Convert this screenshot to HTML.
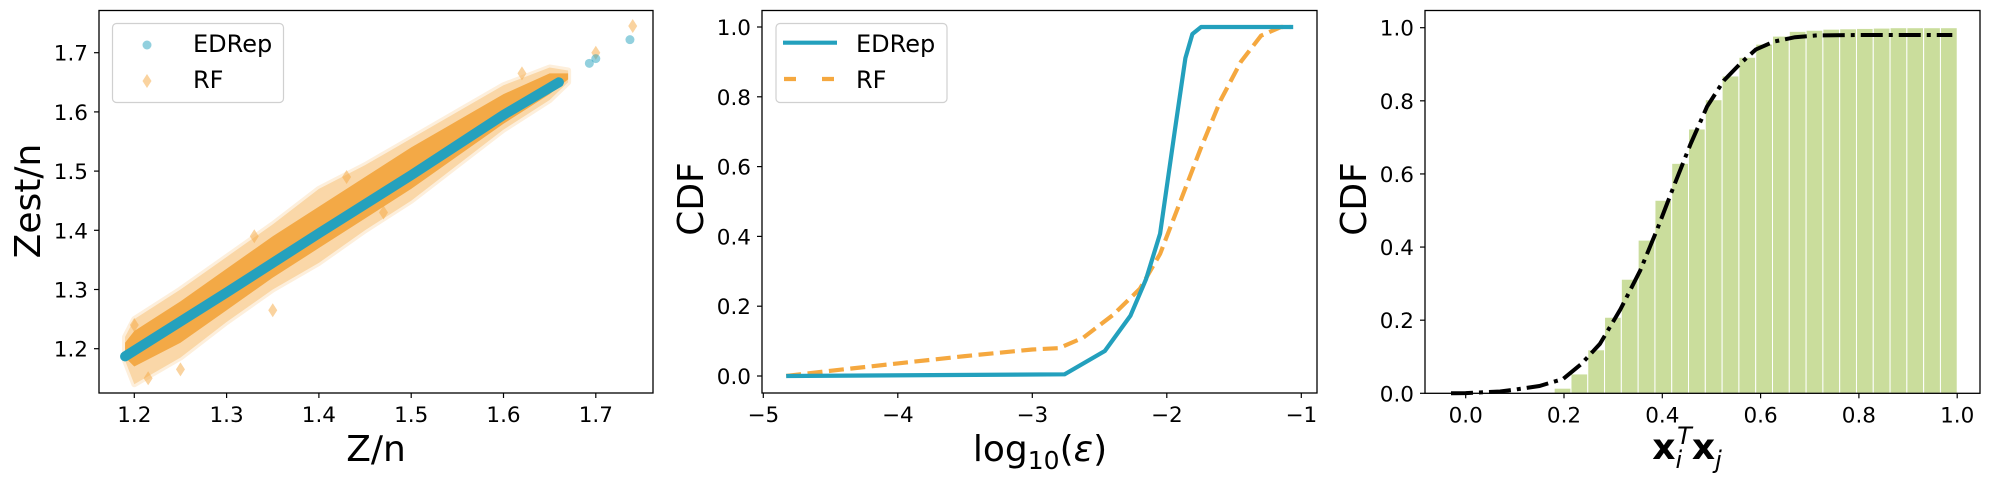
<!DOCTYPE html>
<html><head><meta charset="utf-8"><style>
html,body{margin:0;padding:0;background:#fff;}
svg{display:block;font-family:"DejaVu Sans","Liberation Sans",sans-serif;}
</style></head><body>
<svg id="fig" width="1989" height="490" viewBox="0 0 1989 490" xmlns="http://www.w3.org/2000/svg">
<rect x="0" y="0" width="1989" height="490" fill="#fff"/>
<g id="p1"></g>
<g id="p2"></g>
<g id="p3"></g>
</svg>
<script>
// ---------- Panel 1 data ----------
const rfBandX = [1.19, 1.2, 1.25, 1.3, 1.35, 1.4, 1.45, 1.5, 1.55, 1.6, 1.65, 1.67];
const rfOuterUpper = [1.22, 1.25, 1.30, 1.355, 1.41, 1.47, 1.51, 1.555, 1.60, 1.645, 1.675, 1.67];
const rfOuterLower = [1.18, 1.14, 1.185, 1.245, 1.30, 1.345, 1.40, 1.45, 1.51, 1.57, 1.62, 1.65];
const rfCoreUpper = [1.21, 1.23, 1.28, 1.335, 1.39, 1.44, 1.49, 1.54, 1.585, 1.63, 1.665, 1.665];
const rfCoreLower = [1.185, 1.17, 1.21, 1.265, 1.32, 1.37, 1.42, 1.47, 1.525, 1.58, 1.63, 1.655];
const rfOutX = [1.74, 1.70, 1.215, 1.25, 1.33, 1.43, 1.47, 1.62, 1.20, 1.35];
const rfOutY = [1.745, 1.70, 1.15, 1.165, 1.39, 1.49, 1.43, 1.665, 1.24, 1.265];
const edX = [1.19, 1.30, 1.40, 1.50, 1.60, 1.66];
const edY = [1.187, 1.295, 1.395, 1.493, 1.595, 1.650];
const edOutX = [1.737, 1.700, 1.693];
const edOutY = [1.722, 1.690, 1.682];
const p1XTicks = [1.2, 1.3, 1.4, 1.5, 1.6, 1.7];
const p1YTicks = [1.2, 1.3, 1.4, 1.5, 1.6, 1.7];
// ---------- Panel 2 data ----------
const edrepLogX = [-4.83, -2.76, -2.46, -2.27, -2.154, -2.05, -1.94, -1.862, -1.81, -1.745, -1.06];
const edrepCdf = [0.0, 0.005, 0.072, 0.173, 0.278, 0.408, 0.705, 0.911, 0.98, 1.0, 1.0];
const rfLogX = [-4.83, -4.5, -4.0, -3.5, -3.0, -2.8, -2.62, -2.4, -2.2, -2.05, -1.9, -1.75, -1.6, -1.45, -1.3, -1.15, -1.08];
const rfCdf = [0.0, 0.015, 0.036, 0.057, 0.076, 0.08, 0.11, 0.175, 0.25, 0.35, 0.5, 0.65, 0.79, 0.9, 0.975, 1.0, 1.0];
const p2XTicks = [-5, -4, -3, -2, -1];
const p2XLabels = ["\u22125", "\u22124", "\u22123", "\u22122", "\u22121"];
const cdfTicks = [0.0, 0.2, 0.4, 0.6, 0.8, 1.0];
const cdfLabels = ["0.0", "0.2", "0.4", "0.6", "0.8", "1.0"];
// ---------- Panel 3 data ----------
const histStart = 0.18;
const histWidth = 0.03417;
const histValues = [0.014, 0.053, 0.119, 0.208, 0.312, 0.419, 0.528, 0.629, 0.723, 0.803, 0.868, 0.919, 0.955, 0.977, 0.990, 0.993, 0.996, 0.997, 0.998, 0.999, 1.0, 1.0, 1.0, 1.0];
const fitX = [-0.03, 0.0, 0.07, 0.1, 0.15, 0.198, 0.235, 0.273, 0.315, 0.355, 0.39, 0.423, 0.457, 0.491, 0.525, 0.559, 0.59, 0.627, 0.67, 0.715, 0.8, 0.99];
const fitY = [0.0, 0.0005, 0.005, 0.01, 0.02, 0.039, 0.08, 0.135, 0.23, 0.336, 0.45, 0.565, 0.68, 0.784, 0.855, 0.902, 0.94, 0.962, 0.974, 0.979, 0.98, 0.98];
const p3XTicks = [0.0, 0.2, 0.4, 0.6, 0.8, 1.0];
const p3XLabels = ["0.0", "0.2", "0.4", "0.6", "0.8", "1.0"];

const NS = "http://www.w3.org/2000/svg";
function mk(parent, tag, attrs, text) {
  const el = document.createElementNS(NS, tag);
  for (const k in attrs) el.setAttribute(k, attrs[k]);
  if (text !== undefined) el.textContent = text;
  parent.appendChild(el);
  return el;
}
// scales
const x1 = v => 134.3 + (v - 1.2) * 923;
const y1 = v => 348.7 - (v - 1.2) * 592;
const x2 = v => 1166.8 + (v + 2) * 134.5;
const y2 = v => 376 - v * 349;
const x3 = v => 1465.7 + v * 491.5;
const y3 = v => 393.3 - v * 365.6;

function frame(g, L, T, R, B) {
  const r = mk(g, "rect", {x: L, y: T, width: R - L, height: B - T, fill: "none", stroke: "#000", "stroke-width": 1.3});
  
  
}
function xTicks(g, vals, labels, sx, B) {
  vals.forEach((v, i) => {
    const t = mk(g, "line", {x1: sx(v), x2: sx(v), y1: B, y2: B + 5, stroke: "#000", "stroke-width": 1.2});
    
    
    const l = mk(g, "text", {x: sx(v), y: B + 29, "font-size": 21.5, "text-anchor": "middle", fill: "#000"}, labels[i]);
    
    
  });
}
function yTicks(g, vals, labels, sy, L) {
  vals.forEach((v, i) => {
    const t = mk(g, "line", {x1: L - 5, x2: L, y1: sy(v), y2: sy(v), stroke: "#000", "stroke-width": 1.2});
    
    
    const l = mk(g, "text", {x: L - 11, y: sy(v) + 8, "font-size": 21.5, "text-anchor": "end", fill: "#000"}, labels[i]);
    
    
  });
}
function yTitle(g, x, yc, txt) {
  const t = mk(g, "text", {x: x, y: yc, "font-size": 36, "text-anchor": "middle", transform: `rotate(-90 ${x} ${yc})`, fill: "#000"}, txt);
  
  
}
const pts = (xs, ys, sx, sy) => xs.map((v, i) => `${sx(v).toFixed(1)},${sy(ys[i]).toFixed(1)}`).join(" ");

// ===== Panel 1 =====
const g1 = document.getElementById("p1");
const clip = mk(g1, "clipPath", {id: "c1"});
mk(clip, "rect", {x: 99, y: 10.5, width: 554, height: 382.5});
const d1 = mk(g1, "g", {"clip-path": "url(#c1)"});
const outerPoly = rfBandX.map((v, i) => `${x1(v)},${y1(rfOuterUpper[i])}`).concat(rfBandX.slice().reverse().map((v, j) => { const i = rfBandX.length - 1 - j; return `${x1(v)},${y1(rfOuterLower[i])}`; })).join(" ");
const ob = mk(d1, "polygon", {points: outerPoly, fill: "#f5a83f", opacity: 0.45, stroke: "#f5a83f", "stroke-opacity": 0.4, "stroke-width": 6, "stroke-linejoin": "round"});


const corePoly = rfBandX.map((v, i) => `${x1(v)},${y1(rfCoreUpper[i])}`).concat(rfBandX.slice().reverse().map((v, j) => { const i = rfBandX.length - 1 - j; return `${x1(v)},${y1(rfCoreLower[i])}`; })).join(" ");
const cb = mk(d1, "polygon", {points: corePoly, fill: "#f2a740", opacity: 0.95});


rfOutX.forEach((v, i) => {
  const cx = x1(v), cy = y1(rfOutY[i]);
  const d = mk(d1, "polygon", {points: `${cx},${cy - 7} ${cx + 4.5},${cy} ${cx},${cy + 7} ${cx - 4.5},${cy}`, fill: "#f5a83f", opacity: 0.5});
  
  
});
const el1 = mk(d1, "polyline", {points: pts(edX, edY, x1, y1), fill: "none", stroke: "#25a1bd", "stroke-width": 10, "stroke-linecap": "round", "stroke-linejoin": "round"});


edOutX.forEach((v, i) => {
  const c = mk(d1, "circle", {cx: x1(v), cy: y1(edOutY[i]), r: 4.5, fill: "#25a1bd", opacity: 0.5});
  
  
});
frame(g1, 99, 10.5, 653, 393);
xTicks(g1, p1XTicks, p1XTicks.map(v => v.toFixed(1)), x1, 393);
yTicks(g1, p1YTicks, p1YTicks.map(v => v.toFixed(1)), y1, 99);
yTitle(g1, 40, 201, "Zest/n");
const xt1 = mk(g1, "text", {x: 376, y: 461, "font-size": 36, "text-anchor": "middle"}, "Z/n");


const lg1 = mk(g1, "g", {});


mk(lg1, "rect", {x: 112.5, y: 23.5, width: 171, height: 79, rx: 4, fill: "#fff", "fill-opacity": 0.8, stroke: "#d0d0d0", "stroke-width": 1.2});
const lc = mk(lg1, "circle", {cx: 147, cy: 45, r: 4.5, fill: "#25a1bd", opacity: 0.5});


const ld = mk(lg1, "polygon", {points: "147,74 151.5,81 147,88 142.5,81", fill: "#f5a83f", opacity: 0.5});


const lt1 = mk(lg1, "text", {x: 193, y: 52, "font-size": 24}, "EDRep");


const lt2 = mk(lg1, "text", {x: 193, y: 88, "font-size": 24}, "RF");



// ===== Panel 2 =====
const g2 = document.getElementById("p2");
const rl = mk(g2, "polyline", {points: pts(rfLogX, rfCdf, x2, y2), fill: "none", stroke: "#f5a83f", "stroke-width": 4.2, "stroke-dasharray": "15 6.5"});


const eln = mk(g2, "polyline", {points: pts(edrepLogX, edrepCdf, x2, y2), fill: "none", stroke: "#23a0bd", "stroke-width": 4.2, "stroke-linejoin": "round"});


frame(g2, 762, 10.5, 1317, 393);
xTicks(g2, p2XTicks, p2XLabels, x2, 393);
yTicks(g2, cdfTicks, cdfLabels, y2, 762);
yTitle(g2, 703, 199, "CDF");
const xt2 = mk(g2, "text", {x: 1040, y: 461, "font-size": 36, "text-anchor": "middle"});


mk(xt2, "tspan", {}, "log");
mk(xt2, "tspan", {"font-size": 25, dy: 8}, "10");
mk(xt2, "tspan", {dy: -8}, "(");
mk(xt2, "tspan", {"font-style": "italic"}, "\u03b5");
mk(xt2, "tspan", {}, ")");
const lg2 = mk(g2, "g", {});


mk(lg2, "rect", {x: 776, y: 23.5, width: 171, height: 79, rx: 4, fill: "#fff", "fill-opacity": 0.8, stroke: "#d0d0d0", "stroke-width": 1.2});
const ls1 = mk(lg2, "line", {x1: 783, x2: 837, y1: 42.7, y2: 42.7, stroke: "#23a0bd", "stroke-width": 4.2});


const ls2 = mk(lg2, "line", {x1: 784, x2: 837, y1: 79, y2: 79, stroke: "#f5a83f", "stroke-width": 4.2, "stroke-dasharray": "12 26"});


const l2a = mk(lg2, "text", {x: 856, y: 52, "font-size": 24}, "EDRep");


const l2b = mk(lg2, "text", {x: 856, y: 88, "font-size": 24}, "RF");



// ===== Panel 3 =====
const g3 = document.getElementById("p3");
histValues.forEach((v, i) => {
  const a = histStart + i * histWidth;
  const b = a + histWidth;
  const r = mk(g3, "rect", {x: x3(a), y: y3(v), width: x3(b) - x3(a), height: y3(0) - y3(v), fill: "#cadd9c", stroke: "#fff", "stroke-width": 1});
  
  
});
const fl = mk(g3, "polyline", {points: pts(fitX, fitY, x3, y3), fill: "none", stroke: "#000", "stroke-width": 4, "stroke-dasharray": "22 6 4 6"});


frame(g3, 1425, 10.5, 1980, 393.3);
xTicks(g3, p3XTicks, p3XLabels, x3, 393.3);
yTicks(g3, cdfTicks, cdfLabels, y3, 1425);
yTitle(g3, 1366, 199, "CDF");
const xt3 = mk(g3, "text", {x: 1687, y: 459, "font-size": 36, "text-anchor": "middle", "font-weight": "bold"});


mk(xt3, "tspan", {}, "x");
mk(xt3, "tspan", {"font-size": 24, "font-style": "italic", "font-weight": "normal", dy: 9}, "i");
mk(xt3, "tspan", {"font-size": 24, "font-style": "italic", "font-weight": "normal", dy: -24, dx: -5}, "T");
mk(xt3, "tspan", {dy: 15}, "x");
mk(xt3, "tspan", {"font-size": 24, "font-style": "italic", "font-weight": "normal", dy: 9}, "j");
</script>
</body></html>
